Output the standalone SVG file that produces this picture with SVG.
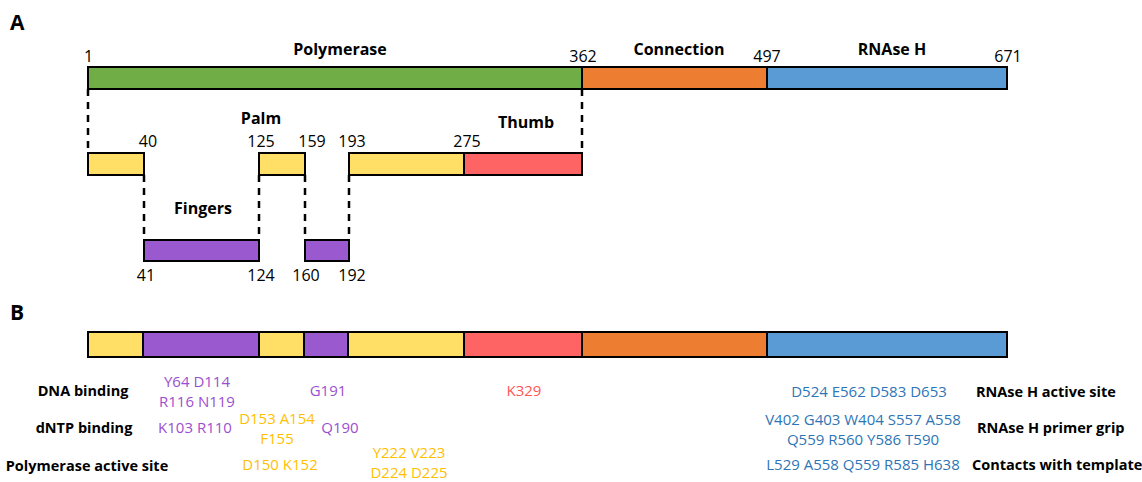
<svg xmlns="http://www.w3.org/2000/svg" width="1142" height="482" viewBox="0 0 1142 482">
<style>
.bx{stroke:#000;stroke-width:2}
.g{fill:#70AD47}.o{fill:#ED7D31}.b{fill:#5B9BD5}.y{fill:#FFDF66}.r{fill:#FF6464}.p{fill:#9B59CF}
.dash{stroke:#000;stroke-width:2.5;stroke-dasharray:7,6;fill:none}
text{font-family:"Open Sans","Liberation Sans",sans-serif}
.n{font-size:16px;fill:#000}
.h{font-size:16px;font-weight:bold;fill:#000}
.l{font-size:14.5px;font-weight:bold;fill:#000}
.tp{font-size:15px;fill:#9B4FD0}
.ty{font-size:15px;fill:#FFBF00}
.tr{font-size:15px;fill:#FF5555}
.tb{font-size:15px;fill:#2E75B6}
.m{text-anchor:middle}
</style>
<text x="10" y="30" style="font-size:21px;font-weight:bold">A</text>
<text x="10" y="320" style="font-size:21px;font-weight:bold">B</text>
<g id="connectors">
<path class="dash" d="M88 89V153M582 89V153M144 175V240M259 175V240M305 175V240M349 175V240"/>
</g>
<g id="full-bar">
<rect class="bx g" x="88" y="67" width="494" height="22"/>
<rect class="bx o" x="582" y="67" width="185" height="22"/>
<rect class="bx b" x="767" y="67" width="240" height="22"/>
<text class="n" x="84" y="62">1</text>
<text class="n m" x="583" y="62">362</text>
<text class="n m" x="767" y="62">497</text>
<text class="n m" x="1008" y="62">671</text>
<text class="h m" x="340" y="55">Polymerase</text>
<text class="h m" x="679" y="55">Connection</text>
<text class="h m" x="892" y="55">RNAse H</text>
</g>
<g id="palm1"><rect class="bx y" x="88" y="153" width="56" height="22"/><text class="n m" x="148" y="147">40</text></g>
<g id="palm2"><rect class="bx y" x="259" y="153" width="46" height="22"/><text class="n m" x="261" y="147">125</text><text class="n m" x="312" y="147">159</text><text class="h m" x="261" y="124">Palm</text></g>
<g id="palm3-thumb"><rect class="bx y" x="349" y="153" width="115" height="22"/><rect class="bx r" x="464" y="153" width="118" height="22"/><text class="n m" x="352" y="147">193</text><text class="n m" x="467" y="147">275</text><text class="h m" x="526" y="128">Thumb</text></g>
<g id="fingers1"><rect class="bx p" x="144" y="240" width="115" height="21"/><text class="n m" x="146" y="281">41</text><text class="n m" x="261" y="281">124</text><text class="h m" x="203" y="214">Fingers</text></g>
<g id="fingers2"><rect class="bx p" x="305" y="240" width="44" height="21"/><text class="n m" x="306" y="281">160</text><text class="n m" x="352" y="281">192</text></g>
<g id="bar-b">
<rect class="bx y" x="88" y="332" width="55" height="25"/>
<rect class="bx p" x="143" y="332" width="116" height="25"/>
<rect class="bx y" x="259" y="332" width="45" height="25"/>
<rect class="bx p" x="304" y="332" width="44" height="25"/>
<rect class="bx y" x="348" y="332" width="116" height="25"/>
<rect class="bx r" x="464" y="332" width="118" height="25"/>
<rect class="bx o" x="582" y="332" width="185" height="25"/>
<rect class="bx b" x="767" y="332" width="240" height="25"/>
</g>
<g id="labels">
<text class="l m" x="83" y="396">DNA binding</text>
<text class="l m" x="84" y="433">dNTP binding</text>
<text class="l m" x="87" y="471">Polymerase  active site</text>
<text class="tp m" x="197" y="387">Y64 D114</text>
<text class="tp m" x="197" y="407">R116 N119</text>
<text class="tp m" x="328" y="396">G191</text>
<text class="tr m" x="524" y="396">K329</text>
<text class="tp m" x="195" y="433">K103 R110</text>
<text class="ty m" x="277" y="424">D153 A154</text>
<text class="ty m" x="277" y="444">F155</text>
<text class="tp m" x="340" y="433">Q190</text>
<text class="ty m" x="280" y="470">D150 K152</text>
<text class="ty m" x="409" y="458">Y222 V223</text>
<text class="ty m" x="409" y="478">D224 D225</text>
<text class="tb m" x="869" y="397">D524 E562 D583 D653</text>
<text class="tb m" x="863" y="425">V402 G403 W404 S557 A558</text>
<text class="tb m" x="863" y="445">Q559 R560 Y586 T590</text>
<text class="tb m" x="863" y="470">L529 A558 Q559 R585 H638</text>
<text class="l" x="976" y="397">RNAse H active site</text>
<text class="l" x="977" y="433">RNAse H primer grip</text>
<text class="l" x="972" y="470">Contacts with template</text>
</g>
</svg>
